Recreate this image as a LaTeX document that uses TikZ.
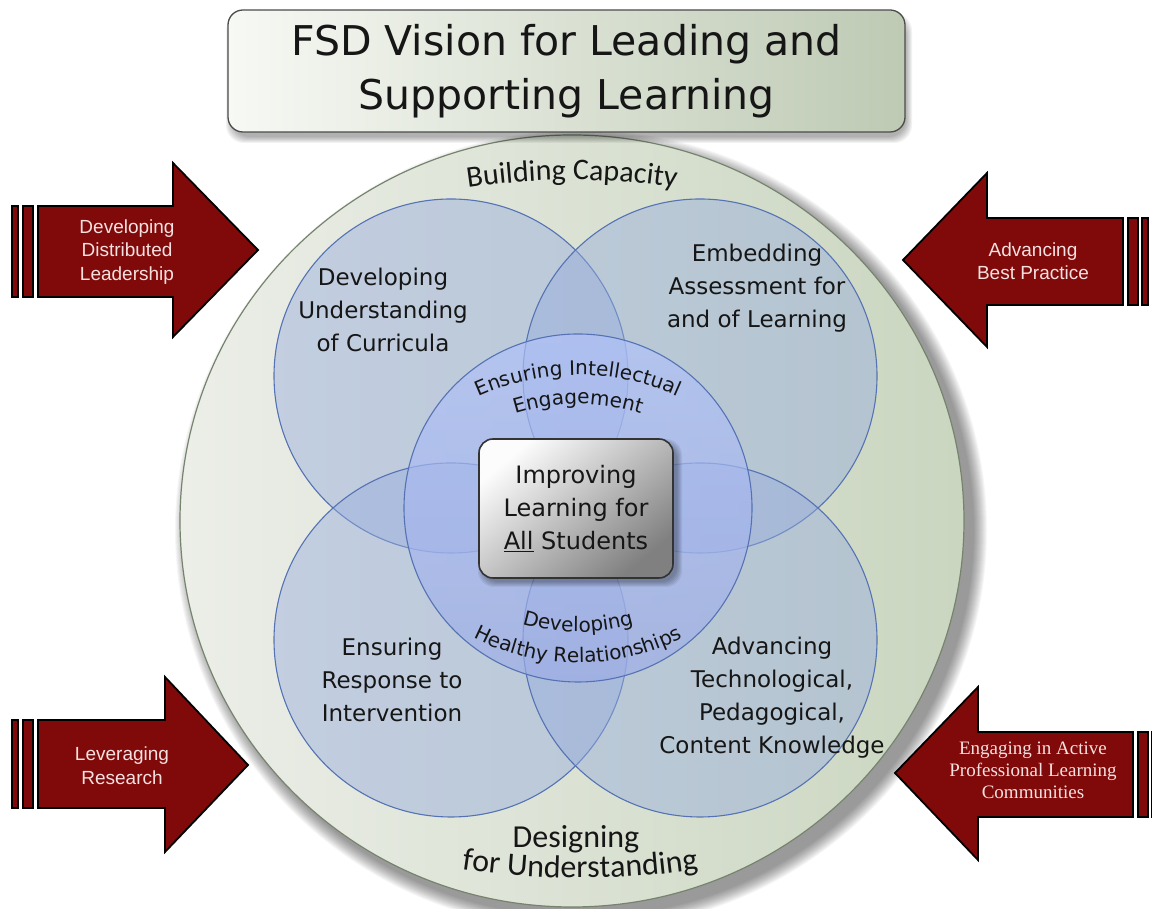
\documentclass[tikz,border=0pt]{standalone}
\usepackage{fontspec}
\setmainfont{DejaVu Sans}
\newfontfamily\capfont{Carlito}
\newfontfamily\arrowsans{Liberation Sans}
\newfontfamily\arrowserif{Liberation Serif}
\usetikzlibrary{decorations.text}

\definecolor{bigleft}{RGB}{236,238,232}
\definecolor{bigright}{RGB}{202,214,192}
\definecolor{bigline}{RGB}{118,132,110}
\definecolor{ringfill}{RGB}{150,172,222}
\definecolor{ringline}{RGB}{85,115,180}
\definecolor{innertop}{RGB}{176,194,250}
\definecolor{innerbot}{RGB}{156,172,230}
\definecolor{arrowred}{RGB}{128,10,10}
\definecolor{arrowtxt}{RGB}{246,224,224}
\definecolor{titleleft}{RGB}{247,249,244}
\definecolor{titleright}{RGB}{190,202,180}
\definecolor{corelight}{RGB}{252,252,252}
\definecolor{coredark}{RGB}{128,128,128}
\definecolor{inktext}{RGB}{22,22,22}

\begin{document}
\begin{tikzpicture}[x=1pt, y=1pt,
  ring/.style={draw=ringline, line width=1.1pt, fill=ringfill, fill opacity=0.45},
  arrowbody/.style={fill=arrowred, draw=black, line width=1.8pt, line join=miter},
  arrowbar/.style={fill=arrowred, draw=black, line width=1.4pt},
  arrowtext/.style={text=arrowtxt, align=center, inner sep=0pt,
    font=\arrowsans\fontsize{19}{23.5}\selectfont},
  ringlabel/.style={align=center, text=inktext, inner sep=0pt,
    font=\fontsize{23}{33}\selectfont},
  softshadow/.style={fill=black, fill opacity=0.035},
  arctext/.style={decorate, decoration={text along path, text align=center,
    text={|\fontsize{20}{20}\selectfont\color{inktext}|#1}}}
]
\useasboundingbox (0,0) rectangle (1152,909);

% soft shadow behind the outer disc
\foreach \k in {0,...,13}
  \path[softshadow] (581,379) ellipse [x radius={(406-\k)*1pt}, y radius={(400-\k)*1pt}];

% outer disc
\path[draw=bigline, line width=1.2pt, left color=bigleft, right color=bigright]
  (572,388) ellipse [x radius=392pt, y radius=386pt];

% outer disc captions
\path[decorate, decoration={text along path, text align=center,
    text={|\capfont\fontsize{30}{30}\selectfont\color{inktext}|Building Capacity}}]
  ([shift={(102:700pt)}]572,29) arc[start angle=102, end angle=78, radius=700pt];
\node[font=\capfont\fontsize{32}{32}\selectfont, text=inktext, anchor=base, inner sep=0pt]
  (designing) at (576,61) {Designing};
\path[decorate, decoration={text along path, text align=center,
    text={|\capfont\fontsize{32}{32}\selectfont\color{inktext}|for Understanding}}]
  ([shift={(259:800pt)}]580,831) arc[start angle=259, end angle=281, radius=800pt];

% four overlapping circles
\path[ring] (451,533) circle[radius=177pt];
\path[ring] (700,533) circle[radius=177pt];
\path[ring] (451,269) circle[radius=177pt];
\path[ring] (700,269) circle[radius=177pt];

% central circle
\path[draw=ringline, line width=1.1pt, top color=innertop, bottom color=innerbot,
  fill opacity=0.68] (578,401) circle[radius=174pt];

% curved captions of the central circle
\path[arctext={Ensuring Intellectual}]
  ([shift={(125:241pt)}]578,293) arc[start angle=125, end angle=55, radius=241pt];
\path[arctext={Engagement}]
  ([shift={(125:212pt)}]578,293) arc[start angle=125, end angle=55, radius=212pt];
\path[arctext={Developing}]
  ([shift={(235:199pt)}]578,476) arc[start angle=235, end angle=305, radius=199pt];
\path[arctext={Healthy Relationships}]
  ([shift={(235:230pt)}]578,476) arc[start angle=235, end angle=305, radius=230pt];

% circle labels
\node[ringlabel] (curricula) at (383,599) {Developing\\Understanding\\of Curricula};
\node[ringlabel] (assessment) at (757,621) {Embedding\\Assessment for\\and of Learning};
\node[ringlabel] (response) at (392,229) {Ensuring\\Response to\\Intervention};
\node[ringlabel] (tpack) at (772,211) {Advancing\\Technological,\\Pedagogical,\\Content Knowledge};

% centre box with its shadow
\foreach \k in {0,...,5}
  \path[fill=black, fill opacity=0.06, rounded corners=16pt]
    ({478+\k},{322+\k}) rectangle ({682-\k},{470-\k});
\node[draw=black!80, line width=1.6pt, rounded corners=14pt,
  minimum width=194pt, minimum height=139pt,
  top color=corelight, bottom color=coredark, shading angle=40,
  align=center, text=inktext, font=\fontsize{24}{33}\selectfont]
  (core) at (576,400.5) {Improving\\Learning for\\\underline{All} Students};

% title box with its shadow
\foreach \k in {0,...,6}
  \path[fill=black, fill opacity=0.05, rounded corners=18pt]
    ({226+\k},{766+\k}) rectangle ({912-\k},{896-\k});
\node[draw=black!70, line width=1.3pt, rounded corners=15pt,
  minimum width=677pt, minimum height=122pt,
  left color=titleleft, right color=titleright,
  align=center, text=inktext, font=\fontsize{41}{54}\selectfont]
  (title) at (566.5,838) {FSD Vision for Leading and\\Supporting Learning};

% arrow: upper left
\path[arrowbar] (12,612) rectangle (18,703);
\path[arrowbar] (23,612) rectangle (33,703);
\path[arrowbody] (38,703) -- (173,703) -- (173,746) -- (258,659) -- (173,572)
  -- (173,612) -- (38,612) -- cycle;
\node[arrowtext] (leadership) at (127,657) {Developing\\Distributed\\Leadership};

% arrow: upper right
\path[arrowbar] (1128,604) rectangle (1138,691);
\path[arrowbar] (1142,604) rectangle (1148,691);
\path[arrowbody] (1123,691) -- (987,691) -- (987,736) -- (903,649) -- (987,562)
  -- (987,604) -- (1123,604) -- cycle;
\node[arrowtext] (practice) at (1033,648) {Advancing\\Best Practice};

% arrow: lower left
\path[arrowbar] (12,101) rectangle (18,189);
\path[arrowbar] (23,101) rectangle (33,189);
\path[arrowbody] (38,189) -- (165,189) -- (165,232) -- (248,144) -- (165,57)
  -- (165,101) -- (38,101) -- cycle;
\node[arrowtext] (research) at (122,143.5) {Leveraging\\Research};

% arrow: lower right
\path[arrowbar] (1138,92) rectangle (1148,177);
\path[arrowbar] (1152,92) rectangle (1158,177);
\path[arrowbody] (1133,177) -- (978,177) -- (978,222) -- (895,136) -- (978,49)
  -- (978,92) -- (1133,92) -- cycle;
\node[arrowtext, font=\arrowserif\fontsize{19}{22}\selectfont]
  (communities) at (1033,139) {Engaging in Active\\Professional Learning\\Communities};
\end{tikzpicture}
\end{document}
